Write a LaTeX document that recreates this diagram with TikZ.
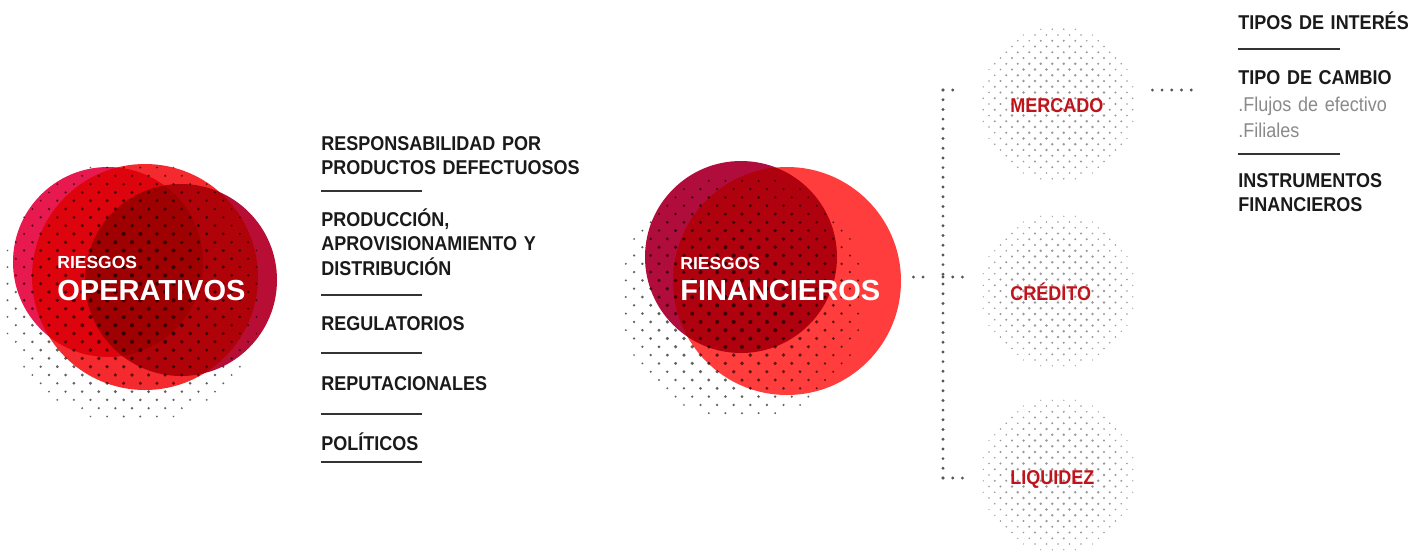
\documentclass[tikz,border=0pt]{standalone}
\usepackage{fontspec}
\setmainfont{Liberation Sans}
\newfontfamily\rb[FakeStretch=0.9]{Liberation Sans}
\usetikzlibrary{calc}
\definecolor{pinkA}{HTML}{E8194E}
\definecolor{redB}{HTML}{F42A2E}
\definecolor{crimC}{HTML}{B80E35}
\definecolor{crimD}{HTML}{B00C3C}
\definecolor{redE}{HTML}{FF3D3D}
\definecolor{txtdark}{HTML}{1A1A1A}
\definecolor{rulegray}{HTML}{333333}
\definecolor{subgray}{HTML}{8A8A8A}
\definecolor{labred}{HTML}{C0141C}
\definecolor{dotgray}{HTML}{555555}
% #1 cx, #2 cy, #3 radius, #4 max dot radius, #5 style, #6 spacing in a row
\newcommand{\halftone}[6]{%
  \pgfmathsetmacro\htS{#6}%
  \pgfmathsetmacro\htH{#6/2}%
  \pgfmathtruncatemacro\htI{#3/\htS+1}%
  \pgfmathtruncatemacro\htIm{-\htI}%
  \pgfmathtruncatemacro\htJ{#3/\htH+1}%
  \pgfmathtruncatemacro\htJm{-\htJ}%
  \foreach \j in {\htJm,...,\htJ}{%
    \foreach \i in {\htIm,...,\htI}{%
      \pgfmathsetmacro\htx{\i*\htS+mod(abs(\j),2)*\htH}%
      \pgfmathsetmacro\hty{\j*\htH}%
      \pgfmathsetmacro\htd{veclen(\htx,\hty)/#3}%
      \ifdim\htd pt<1pt\relax
        \pgfmathsetmacro\htr{#4*(1-0.55*\htd*\htd*\htd)}%
        \pgfmathsetmacro\hx{#1+\htx}%
        \pgfmathsetmacro\hy{#2+\hty}%
        \fill[#5] (\hx,\hy) circle[radius=\htr];%
      \fi
    }}}
\tikzset{
  listtxt/.style={anchor=base west, inner sep=0pt, text width=140pt, align=left,
    font=\rb\bfseries\fontsize{10}{12.25}\selectfont, text=txtdark},
  rlisttxt/.style={listtxt, text width=95pt},
  subtxt/.style={anchor=base west, inner sep=0pt, text width=95pt, align=left,
    font=\rb\fontsize{10}{13}\selectfont, text=subgray},
  rulel/.style={line width=1pt, draw=rulegray},
  bigc/.style={circle, inner sep=0pt, draw=none},
  smallc/.style={circle, inner sep=0pt, draw=none},
  smalllab/.style={anchor=base west, inner sep=0pt, font=\bfseries\fontsize{8.75}{10}\selectfont, text=white},
  biglab/.style={anchor=base west, inner sep=0pt, font=\bfseries\fontsize{14.5}{16}\selectfont, text=white},
  redlab/.style={anchor=base west, inner sep=0pt, font=\rb\bfseries\fontsize{10}{12}\selectfont, text=labred},
  dotline/.style={draw=dotgray, line width=1.6pt, line cap=round, dash pattern=on 0pt off 4.85pt},
  darkdot/.style={black, opacity=0.62},
  greydot/.style={black, opacity=0.4}
}
\begin{document}
\begin{tikzpicture}[x=0.5pt, y=-0.5pt]
\useasboundingbox (0,0) rectangle (1426,554);
\fill[white] (0,0) rectangle (1426,554);

% ---- left cluster: RIESGOS OPERATIVOS
\begin{scope}[blend mode=multiply]
  \node[bigc, fill=pinkA, minimum size=95pt] (opA) at (108,262) {};
  \node[bigc, fill=redB, minimum size=113pt] (opB) at (145,277) {};
  \node[bigc, fill=crimC, minimum size=96pt] (opC) at (181,280) {};
\end{scope}
\halftone{132}{292}{132}{2.1}{darkdot}{16.6}
\node[smalllab] (opr) at (57,268) {RIESGOS};
\node[biglab] (opt) at (57,300) {OPERATIVOS};

% ---- list of operational risks
\node[listtxt] (l1) at (321,150) {RESPONSABILIDAD POR\\PRODUCTOS DEFECTUOSOS};
\draw[rulel] (321,191) -- (422,191);
\node[listtxt] (l2) at (321,226) {PRODUCCIÓN,\\APROVISIONAMIENTO Y\\DISTRIBUCIÓN};
\draw[rulel] (321,295) -- (422,295);
\node[listtxt] (l3) at (321,330) {REGULATORIOS};
\draw[rulel] (321,353) -- (422,353);
\node[listtxt] (l4) at (321,390) {REPUTACIONALES};
\draw[rulel] (321,414) -- (422,414);
\node[listtxt] (l5) at (321,450) {POLÍTICOS};
\draw[rulel] (321,462) -- (422,462);

% ---- right cluster: RIESGOS FINANCIEROS
\begin{scope}[blend mode=multiply]
  \node[bigc, fill=crimD, minimum size=96pt] (fcD) at (741,257) {};
  \node[bigc, fill=redE, minimum size=114pt] (fcE) at (787,281) {};
\end{scope}
\halftone{742}{297}{124}{2.1}{darkdot}{16.6}
\node[smalllab] (fir) at (680,269) {RIESGOS};
\node[biglab] (fit) at (680,300) {FINANCIEROS};

% ---- small halftone circles
\node[smallc, minimum size=80pt] (mer) at (1058,104) {};
\node[smallc, minimum size=78pt] (cre) at (1058,291) {};
\node[smallc, minimum size=78pt] (liq) at (1058,475) {};
\halftone{1058}{104}{80}{1.45}{greydot}{11.5}
\halftone{1058}{291}{78}{1.45}{greydot}{11.5}
\halftone{1058}{475}{78}{1.45}{greydot}{11.5}
\node[redlab] (merl) at (1010,112) {MERCADO};
\node[redlab] (crel) at (1010,300) {CRÉDITO};
\node[redlab] (liql) at (1010,484) {LIQUIDEZ};

% ---- dotted connectors
\coordinate (vtop) at (943,90);
\coordinate (vmid) at (943,277);
\coordinate (vbot) at (943,478);
\draw[dotline] ($(fcE.east)+(12,-4)$) -- ($(fcE.east)+(22,-4)$);
\draw[dotline] (vtop) -- (vbot);
\draw[dotline] (vtop) -- ($(mer.west |- vtop)+(-16,0)$);
\draw[dotline] (vmid) -- ($(cre.west |- vmid)+(-16,0)$);
\draw[dotline] (vbot) -- ($(liq.west |- vbot)+(-16,0)$);

% ---- market sub-list
\node[rlisttxt] (r1) at (1238,29) {TIPOS DE INTERÉS};
\draw[rulel] (1238,49) -- (1340,49);
\node[rlisttxt] (r2) at (1238,84) {TIPO DE CAMBIO};
\node[subtxt] (r3) at (1238,111) {.Flujos de efectivo\\.Filiales};
\draw[rulel] (1238,154) -- (1340,154);
\node[rlisttxt] (r4) at (1238,187) {INSTRUMENTOS\\FINANCIEROS};
\draw[dotline] ($(mer.east |- vtop)+(14,0)$) -- ($(r2.west |- vtop)+(-38,0)$);
\end{tikzpicture}
\end{document}
